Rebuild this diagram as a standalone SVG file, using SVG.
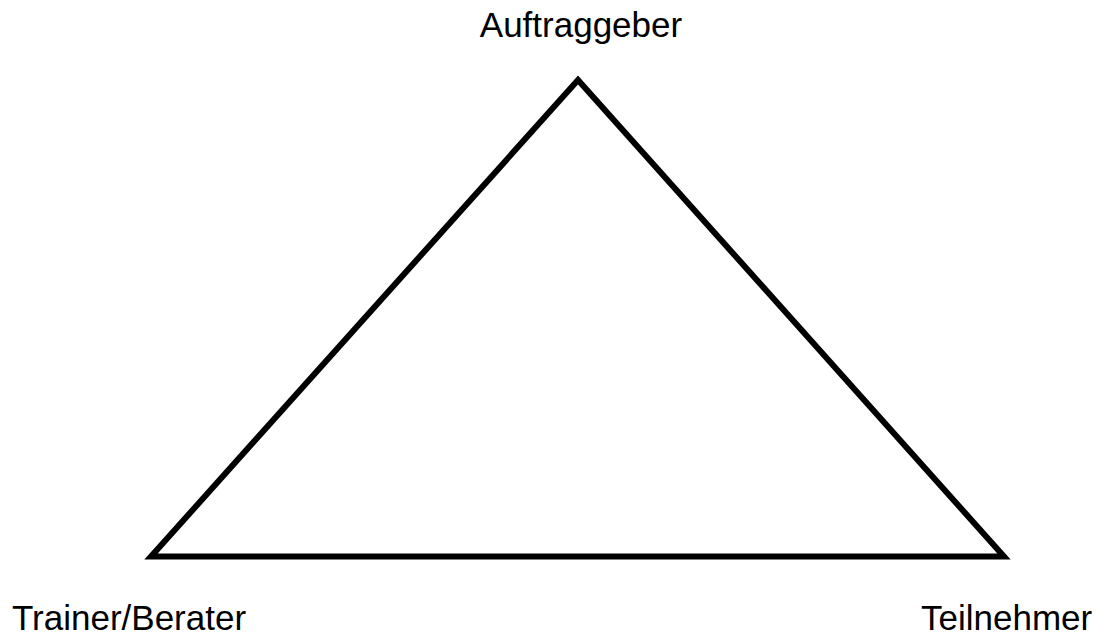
<svg xmlns="http://www.w3.org/2000/svg" width="1102" height="637" viewBox="0 0 1102 637">
<style>
.lbl{font-family:"Liberation Sans",Arial,sans-serif;font-size:35px;fill:#000}
.edge{stroke:#000;stroke-width:6;fill:none;stroke-linejoin:miter}
</style>
<rect width="1102" height="637" fill="#fff"/>
<g id="connectors">
<polygon class="edge" points="578,80 151,556.5 1004,556.5"/>
</g>
<g id="node-auftraggeber"><text class="lbl" x="581" y="37" text-anchor="middle">Auftraggeber</text></g>
<g id="node-trainer"><text class="lbl" x="12" y="630">Trainer/Berater</text></g>
<g id="node-teilnehmer"><text class="lbl" x="921" y="630">Teilnehmer</text></g>
</svg>
